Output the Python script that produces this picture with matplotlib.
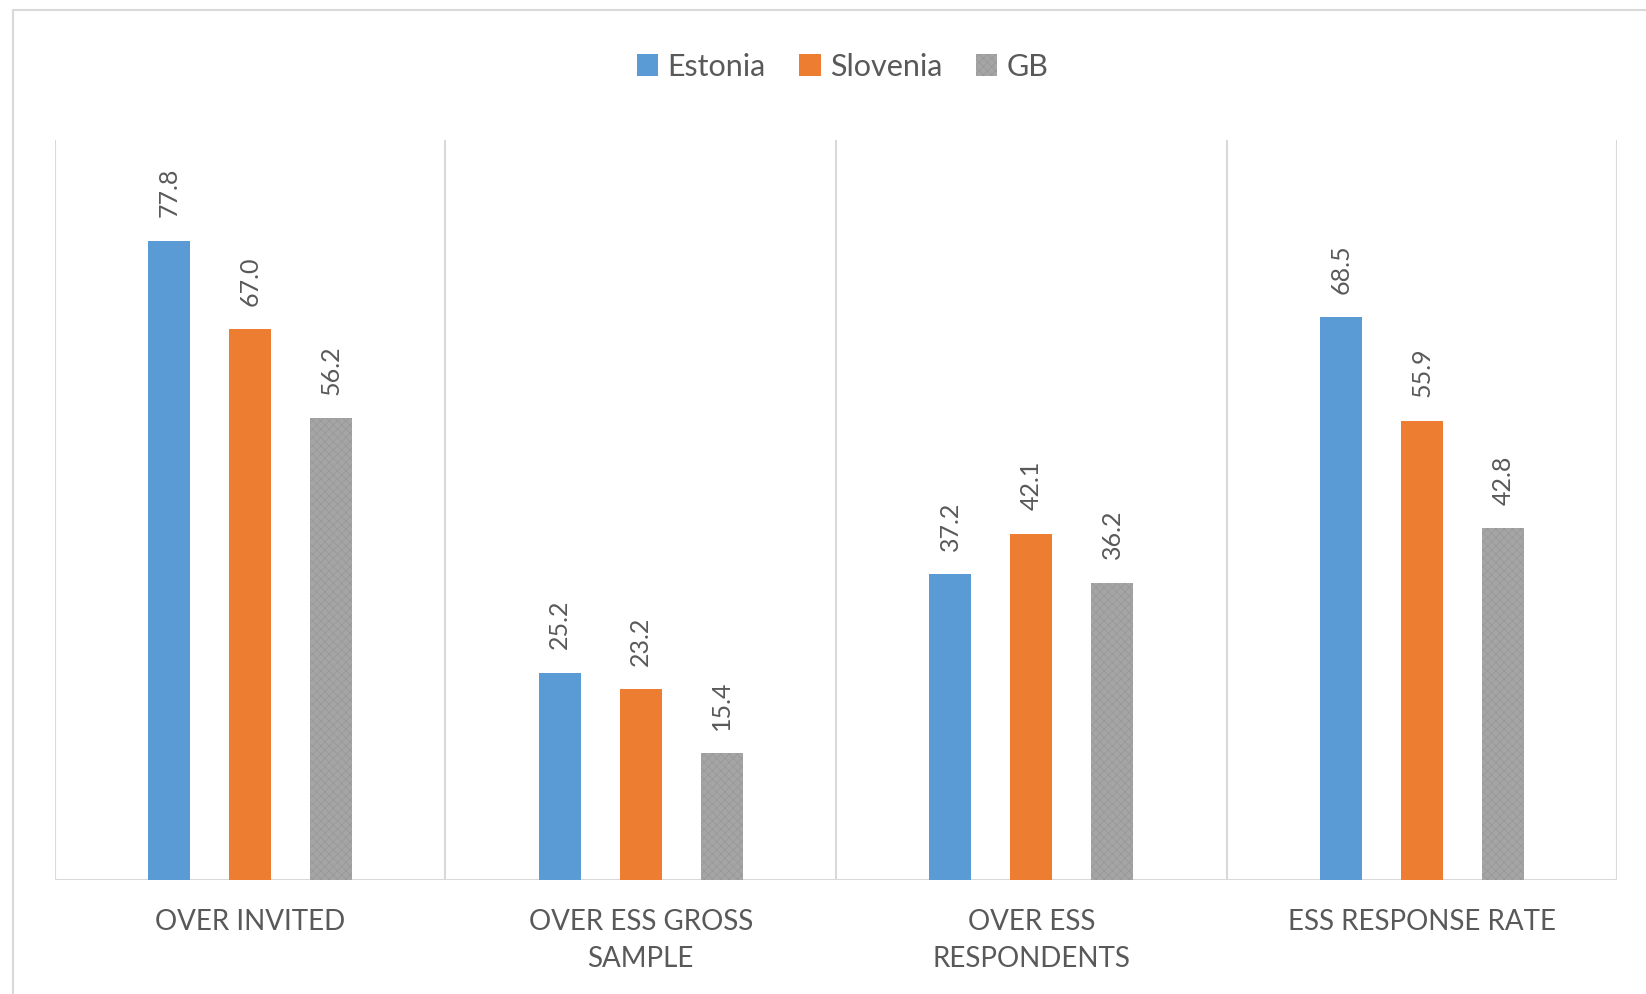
import matplotlib
matplotlib.use("Agg")
import matplotlib.pyplot as plt
import numpy as np
from matplotlib.patches import Rectangle

categories = ["OVER INVITED", "OVER ESS GROSS\nSAMPLE", "OVER ESS\nRESPONDENTS", "ESS RESPONSE RATE"]
series = ["Estonia", "Slovenia", "GB"]
estonia = [77.8, 25.2, 37.2, 68.5]
slovenia = [67.0, 23.2, 42.1, 55.9]
gb = [56.2, 15.4, 36.2, 42.8]

colors = ["#5b9bd5", "#ed7d31", "#a5a5a5"]
text_color = "#595959"
grid_color = "#d9d9d9"

plt.rcParams["font.family"] = ["Lato", "DejaVu Sans"]
plt.rcParams["hatch.linewidth"] = 0.6

fig = plt.figure(figsize=(16.46, 9.94), dpi=100)
ax = fig.add_axes([0.0334, 0.1147, 0.949, 0.744])

# outer chart border
fig.patches.append(Rectangle((13 / 1646, -0.05), 1.1, 1 - 10 / 994 + 0.05,
                             transform=fig.transFigure, fill=False,
                             edgecolor=grid_color, linewidth=1.5))

x = np.arange(len(categories))
width = 0.108
step = 0.2075
for i, (name, vals) in enumerate(zip(series, [estonia, slovenia, gb])):
    pos = x + (i - 1) * step
    if name == "GB":
        ax.bar(pos, vals, width, color=colors[i], label=name,
               hatch="xxxx", edgecolor="#999999", linewidth=0)
    else:
        ax.bar(pos, vals, width, color=colors[i], label=name, linewidth=0)
    for xp, v in zip(pos, vals):
        ax.annotate(f"{v:.1f}", (xp, v), xytext=(0, 17), textcoords="offset points",
                    rotation=90, ha="center", va="bottom", fontsize=18, color=text_color)

for b in np.arange(-0.5, len(categories), 1.0):
    ax.plot([b, b], [0, 90], color=grid_color, linewidth=1.5, zorder=0)
ax.axhline(0, color=grid_color, linewidth=1.5, zorder=0)

ax.set_xlim(-0.5, len(categories) - 0.5)
ax.set_ylim(0, 90)
ax.set_yticks([])
ax.set_xticks(x)
ax.set_xticklabels(categories, fontsize=20, color=text_color, linespacing=1.5)
ax.tick_params(axis="x", length=0, pad=21)
for s in ax.spines.values():
    s.set_visible(False)

leg = fig.legend(loc="center", bbox_to_anchor=(0.512, 0.933), ncol=3, frameon=False,
                 fontsize=22, handlelength=0.7, handleheight=0.7, handletextpad=0.3,
                 columnspacing=1.1)
for t in leg.get_texts():
    t.set_color(text_color)

fig.savefig("out.png", dpi=100, facecolor="white")
